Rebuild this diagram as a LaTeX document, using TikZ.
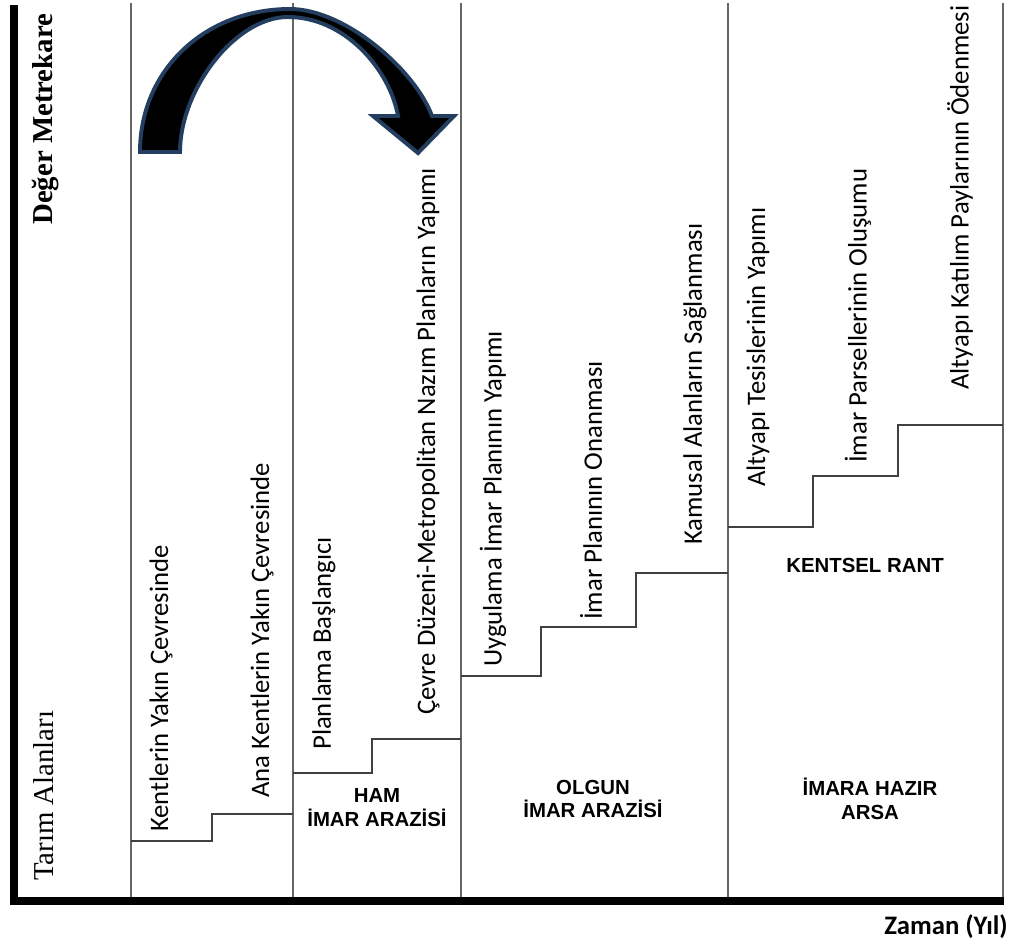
\documentclass[tikz,border=0pt]{standalone}
\usepackage{fontspec}
\setmainfont{Liberation Serif}
\newfontfamily\calibrifont{Carlito}
\newfontfamily\arialfont{Liberation Sans}
\definecolor{arrowblue}{RGB}{36,62,96}

\begin{document}
\begin{tikzpicture}[
  x=0.025cm, y=-0.025cm,
  axis/.style={draw=black,line width=6pt,line join=miter},
  column/.style={draw=black!60,line width=1.4pt},
  stair/.style={draw=black!75,line width=1.4pt},
  phase/.style={rotate=90,anchor=west,inner sep=0pt,
                font=\calibrifont\fontsize{19}{22}\selectfont},
  zone/.style={align=center,inner sep=0pt,
               font=\arialfont\bfseries\fontsize{14.5}{17}\selectfont},
  jump/.style={draw=arrowblue,fill=black,line width=2.8pt,line join=miter},
]
\useasboundingbox (0,0) rectangle (1016,943);

%% ===== Period columns ========================================================
\draw[column] (131,3) -- (131,901);
\draw[column] (293,3) -- (293,901);
\draw[column] (461,3) -- (461,901);
\draw[column] (728,3) -- (728,901);
\draw[column] (1003,3) -- (1003,901);

%% ===== Value steps ===========================================================
\draw[stair] (131,841) -- (212,841) -- (212,814) -- (293,814);
\draw[stair] (293,773) -- (372,773) -- (372,739) -- (461,739);
\draw[stair] (461,676) -- (541,676) -- (541,627) -- (636,627)
  -- (636,573) -- (728,573);
\draw[stair] (728,527) -- (813,527) -- (813,476) -- (898,476)
  -- (898,425) -- (1003,425);

%% ===== Axes ==================================================================
\coordinate (ytop) at (14,5);
\coordinate (origin) at (14,901);
\coordinate (xend) at (1004,901);
\draw[axis] (ytop) -- (origin) -- (xend);
\node[rotate=90,anchor=west,inner sep=0pt,
      font=\bfseries\fontsize{20.5}{24}\selectfont] (value) at (46,225) {Değer Metrekare};
\node[rotate=90,anchor=west,inner sep=0pt,
      font=\fontsize{20.5}{24}\selectfont] (farm) at (44,881) {Tarım Alanları};
\node[anchor=east,inner sep=0pt,
      font=\calibrifont\bfseries\fontsize{19}{22}\selectfont] (time) at (1008,927) {Zaman (Yıl)};

%% ===== Phase labels ==========================================================
\node[phase] (p1) at (161,832) {Kentlerin Yakın Çevresinde};
\node[phase] (p2) at (262,798) {Ana Kentlerin Yakın Çevresinde};
\node[phase] (p3) at (324,750) {Planlama Başlangıcı};
\node[phase] (p4) at (428,715) {Çevre Düzeni-Metropolitan Nazım Planların Yapımı};
\node[phase] (p5) at (493,667) {Uygulama İmar Planının Yapımı};
\node[phase] (p6) at (591,620) {İmar Planının Onanması};
\node[phase] (p7) at (695,545) {Kamusal Alanların Sağlanması};
\node[phase] (p8) at (758,487) {Altyapı Tesislerinin Yapımı};
\node[phase] (p9) at (858,463) {İmar Parsellerinin Oluşumu};
\node[phase] (p10) at (960,390) {Altyapı Katılım Paylarının Ödenmesi};

%% ===== Land stages ===========================================================
\node[zone] (raw) at (377,808) {HAM\\İMAR ARAZİSİ};
\node[zone] (mature) at (593,799) {OLGUN\\İMAR ARAZİSİ};
\node[zone] (rent) at (865,565) {KENTSEL RANT};
\node[zone] (ready) at (870,799) {İMARA HAZIR\\ARSA};

%% ===== Curved jump arrow =====================================================
\draw[jump] (140,152) .. controls (140,70) and (205,9) .. (290,9)
  .. controls (345,9) and (415,70) .. (432,116)
  -- (454,116) -- (418,153) -- (373,116) -- (398,116)
  .. controls (390,70) and (345,17) .. (288,17)
  .. controls (235,17) and (180,90) .. (180,152) -- cycle;

\end{tikzpicture}
\end{document}
